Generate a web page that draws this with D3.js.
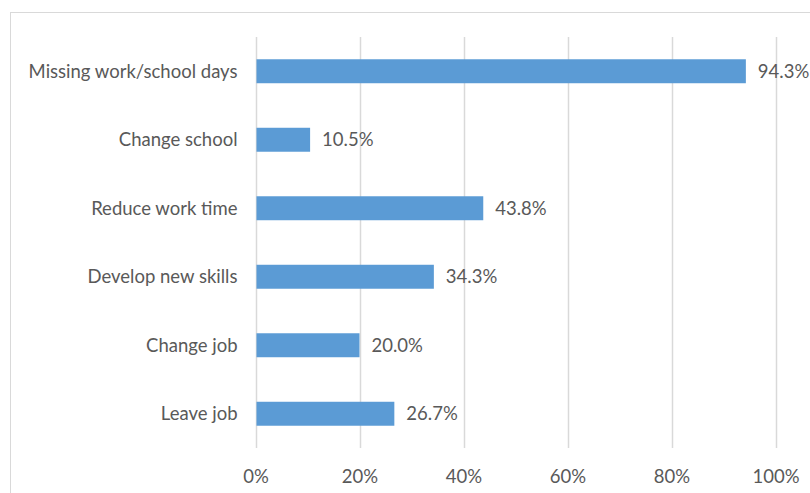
<!DOCTYPE html>
<html>
<head>
<meta charset="utf-8">
<script src="https://cdn.jsdelivr.net/npm/d3@7"></script>
<style>
  html, body { margin: 0; padding: 0; background: #fff; }
  svg { display: block; }
  text { font-family: Lato, "Open Sans", sans-serif; fill: #595959; }
</style>
</head>
<body>
<svg id="chart" width="810" height="493"></svg>
<script>
// Share of respondents reporting each consequence
const categories = [
  "Missing work/school days",
  "Change school",
  "Reduce work time",
  "Develop new skills",
  "Change job",
  "Leave job"
];
const values = [94.3, 10.5, 43.8, 34.3, 20.0, 26.7];
const tickValues = [0, 20, 40, 60, 80, 100];

const svg = d3.select("#chart");
const W = 810, H = 493;
const margin = { top: 37, right: 34.5, bottom: 45, left: 255.5 };
const fontSize = 18.5;

// Outer chart frame
svg.append("rect")
  .attr("x", 10.5).attr("y", 12.5)
  .attr("width", 820).attr("height", 500)
  .attr("fill", "#fff")
  .attr("stroke", "#d9d9d9")
  .attr("stroke-width", 1);

const x = d3.scaleLinear().domain([0, 100]).range([margin.left, W - margin.right]);
const y = d3.scaleBand().domain(categories).range([margin.top, H - margin.bottom]).paddingInner(0.65).paddingOuter(0.325);

// Vertical gridlines
svg.append("g")
  .selectAll("line")
  .data(tickValues)
  .join("line")
  .attr("x1", d => Math.round(x(d)) + 0.5)
  .attr("x2", d => Math.round(x(d)) + 0.5)
  .attr("y1", margin.top)
  .attr("y2", H - margin.bottom)
  .attr("stroke", "#d9d9d9")
  .attr("stroke-width", 1.5);

// Bars
svg.append("g")
  .selectAll("rect")
  .data(values)
  .join("rect")
  .attr("x", x(0) + 1)
  .attr("y", (d, i) => y(categories[i]))
  .attr("width", d => x(d) - x(0) - 1)
  .attr("height", y.bandwidth())
  .attr("fill", "#5b9bd5");

// Value labels
svg.append("g")
  .selectAll("text")
  .data(values)
  .join("text")
  .attr("x", d => x(d) + 12)
  .attr("y", (d, i) => y(categories[i]) + y.bandwidth() / 2)
  .attr("dy", "0.35em")
  .attr("font-size", fontSize)
  .text(d => d.toFixed(1) + "%");

// Category axis labels
svg.append("g")
  .selectAll("text")
  .data(categories)
  .join("text")
  .attr("x", margin.left - 18)
  .attr("y", d => y(d) + y.bandwidth() / 2)
  .attr("dy", "0.35em")
  .attr("text-anchor", "end")
  .attr("font-size", fontSize)
  .text(d => d);

// Value axis
const xAxis = d3.axisBottom(x).tickValues(tickValues).tickFormat(d => d + "%").tickSize(0).tickPadding(0);
const gx = svg.append("g").attr("transform", `translate(0,${H - margin.bottom})`).call(xAxis);
gx.select(".domain").remove();
gx.selectAll("text")
  .attr("y", 29)
  .attr("dy", "0.35em")
  .attr("font-size", fontSize)
  .style("font-family", "Lato, 'Open Sans', sans-serif")
  .style("fill", "#595959");
</script>
</body>
</html>
